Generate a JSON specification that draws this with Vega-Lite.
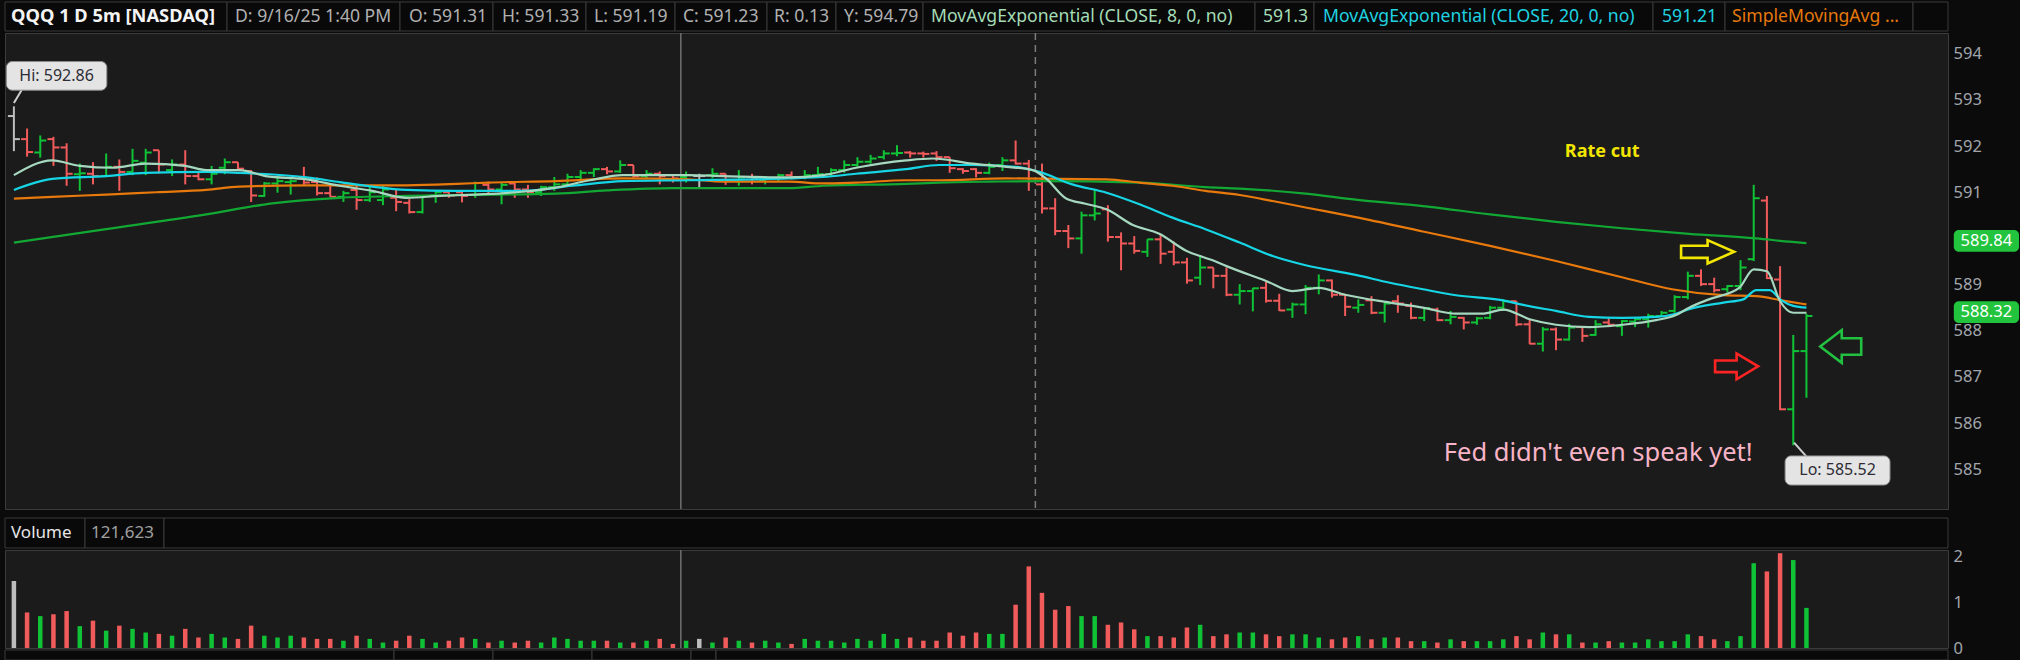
{
"$schema":"https://vega.github.io/schema/vega-lite/v6.json",
"background":"#0b0b0b",
"padding":{"left":4,"top":1,"right":0,"bottom":0},
"config":{"font":"Noto Sans","view":{"fill":"#1b1b1b","stroke":"#3c3c3c","strokeWidth":1},
"axis":{"title":null,"grid":false,"ticks":false,"domain":false,"labelColor":"#a2a6ab","labelFontSize":16.5,"labelFont":"Noto Sans","labelPadding":5},
"legend":{"disable":true}},
"datasets":{
"bars":[
{"i":0,"o":592.65,"h":592.86,"l":591.89,"c":592.15,"v":1.47,"d":"f"},
{"i":1,"o":592.15,"h":592.38,"l":591.77,"c":591.87,"v":0.78,"d":"d"},
{"i":2,"o":591.86,"h":592.23,"l":591.75,"c":592.12,"v":0.70,"d":"u"},
{"i":3,"o":592.15,"h":592.20,"l":591.57,"c":591.97,"v":0.74,"d":"d"},
{"i":4,"o":591.97,"h":592.06,"l":591.14,"c":591.40,"v":0.81,"d":"d"},
{"i":5,"o":591.39,"h":591.62,"l":591.03,"c":591.41,"v":0.48,"d":"u"},
{"i":6,"o":591.40,"h":591.65,"l":591.17,"c":591.35,"v":0.60,"d":"d"},
{"i":7,"o":591.35,"h":591.84,"l":591.33,"c":591.55,"v":0.38,"d":"u"},
{"i":8,"o":591.55,"h":591.71,"l":591.03,"c":591.44,"v":0.49,"d":"d"},
{"i":9,"o":591.44,"h":591.94,"l":591.37,"c":591.68,"v":0.42,"d":"u"},
{"i":10,"o":591.64,"h":591.94,"l":591.37,"c":591.86,"v":0.34,"d":"u"},
{"i":11,"o":591.91,"h":591.91,"l":591.41,"c":591.60,"v":0.31,"d":"d"},
{"i":12,"o":591.48,"h":591.71,"l":591.35,"c":591.60,"v":0.27,"d":"u"},
{"i":13,"o":591.60,"h":591.91,"l":591.17,"c":591.35,"v":0.42,"d":"d"},
{"i":14,"o":591.35,"h":591.42,"l":591.26,"c":591.28,"v":0.23,"d":"d"},
{"i":15,"o":591.28,"h":591.57,"l":591.17,"c":591.40,"v":0.31,"d":"u"},
{"i":16,"o":591.53,"h":591.73,"l":591.39,"c":591.65,"v":0.23,"d":"u"},
{"i":17,"o":591.65,"h":591.65,"l":591.50,"c":591.51,"v":0.20,"d":"d"},
{"i":18,"o":591.46,"h":591.48,"l":590.79,"c":590.93,"v":0.49,"d":"d"},
{"i":19,"o":590.92,"h":591.22,"l":590.90,"c":591.19,"v":0.27,"d":"u"},
{"i":20,"o":591.19,"h":591.35,"l":590.99,"c":591.24,"v":0.23,"d":"u"},
{"i":21,"o":591.22,"h":591.28,"l":590.95,"c":591.24,"v":0.27,"d":"u"},
{"i":22,"o":591.32,"h":591.55,"l":591.15,"c":591.21,"v":0.23,"d":"d"},
{"i":23,"o":591.22,"h":591.32,"l":590.93,"c":590.98,"v":0.20,"d":"d"},
{"i":24,"o":590.98,"h":591.14,"l":590.90,"c":590.90,"v":0.20,"d":"d"},
{"i":25,"o":590.90,"h":591.03,"l":590.79,"c":590.98,"v":0.16,"d":"u"},
{"i":26,"o":591.05,"h":591.15,"l":590.62,"c":590.83,"v":0.27,"d":"d"},
{"i":27,"o":590.83,"h":591.14,"l":590.79,"c":591.00,"v":0.20,"d":"u"},
{"i":28,"o":590.83,"h":591.14,"l":590.72,"c":591.06,"v":0.12,"d":"u"},
{"i":29,"o":590.88,"h":591.05,"l":590.59,"c":590.79,"v":0.16,"d":"d"},
{"i":30,"o":590.77,"h":590.85,"l":590.54,"c":590.57,"v":0.27,"d":"d"},
{"i":31,"o":590.57,"h":590.93,"l":590.54,"c":590.92,"v":0.20,"d":"u"},
{"i":32,"o":590.93,"h":591.03,"l":590.77,"c":591.00,"v":0.12,"d":"u"},
{"i":33,"o":591.00,"h":591.03,"l":590.88,"c":590.93,"v":0.16,"d":"d"},
{"i":34,"o":591.00,"h":591.03,"l":590.78,"c":590.92,"v":0.23,"d":"d"},
{"i":35,"o":590.94,"h":591.23,"l":590.88,"c":591.03,"v":0.20,"d":"u"},
{"i":36,"o":591.16,"h":591.23,"l":590.94,"c":591.06,"v":0.12,"d":"d"},
{"i":37,"o":591.06,"h":591.21,"l":590.74,"c":591.16,"v":0.16,"d":"u"},
{"i":38,"o":591.19,"h":591.21,"l":590.88,"c":591.06,"v":0.12,"d":"d"},
{"i":39,"o":591.06,"h":591.16,"l":590.88,"c":591.00,"v":0.16,"d":"d"},
{"i":40,"o":591.00,"h":591.14,"l":590.92,"c":591.11,"v":0.12,"d":"u"},
{"i":41,"o":591.11,"h":591.33,"l":591.03,"c":591.17,"v":0.23,"d":"u"},
{"i":42,"o":591.17,"h":591.40,"l":591.16,"c":591.33,"v":0.20,"d":"u"},
{"i":43,"o":591.33,"h":591.48,"l":591.21,"c":591.42,"v":0.16,"d":"u"},
{"i":44,"o":591.42,"h":591.52,"l":591.33,"c":591.50,"v":0.16,"d":"u"},
{"i":45,"o":591.50,"h":591.55,"l":591.39,"c":591.45,"v":0.16,"d":"d"},
{"i":46,"o":591.45,"h":591.69,"l":591.42,"c":591.59,"v":0.12,"d":"u"},
{"i":47,"o":591.59,"h":591.59,"l":591.30,"c":591.35,"v":0.12,"d":"d"},
{"i":48,"o":591.35,"h":591.48,"l":591.30,"c":591.40,"v":0.16,"d":"u"},
{"i":49,"o":591.40,"h":591.45,"l":591.17,"c":591.35,"v":0.20,"d":"d"},
{"i":50,"o":591.37,"h":591.39,"l":591.21,"c":591.30,"v":0.09,"d":"d"},
{"i":51,"o":591.33,"h":591.45,"l":591.21,"c":591.37,"v":0.16,"d":"u"},
{"i":52,"o":591.35,"h":591.40,"l":591.10,"c":591.35,"v":0.20,"d":"f"},
{"i":53,"o":591.37,"h":591.52,"l":591.30,"c":591.40,"v":0.12,"d":"u"},
{"i":54,"o":591.40,"h":591.40,"l":591.16,"c":591.26,"v":0.23,"d":"d"},
{"i":55,"o":591.26,"h":591.48,"l":591.14,"c":591.32,"v":0.16,"d":"u"},
{"i":56,"o":591.33,"h":591.40,"l":591.17,"c":591.30,"v":0.12,"d":"d"},
{"i":57,"o":591.26,"h":591.35,"l":591.17,"c":591.30,"v":0.16,"d":"u"},
{"i":58,"o":591.30,"h":591.40,"l":591.23,"c":591.37,"v":0.12,"d":"u"},
{"i":59,"o":591.37,"h":591.45,"l":591.28,"c":591.33,"v":0.09,"d":"d"},
{"i":60,"o":591.33,"h":591.48,"l":591.28,"c":591.37,"v":0.20,"d":"u"},
{"i":61,"o":591.37,"h":591.55,"l":591.33,"c":591.39,"v":0.16,"d":"u"},
{"i":62,"o":591.39,"h":591.52,"l":591.35,"c":591.48,"v":0.16,"d":"u"},
{"i":63,"o":591.48,"h":591.69,"l":591.42,"c":591.59,"v":0.12,"d":"u"},
{"i":64,"o":591.59,"h":591.76,"l":591.55,"c":591.66,"v":0.20,"d":"u"},
{"i":65,"o":591.66,"h":591.81,"l":591.62,"c":591.73,"v":0.16,"d":"u"},
{"i":66,"o":591.76,"h":591.91,"l":591.71,"c":591.84,"v":0.31,"d":"u"},
{"i":67,"o":591.84,"h":592.02,"l":591.78,"c":591.85,"v":0.20,"d":"u"},
{"i":68,"o":591.86,"h":591.89,"l":591.75,"c":591.84,"v":0.23,"d":"d"},
{"i":69,"o":591.84,"h":591.88,"l":591.75,"c":591.83,"v":0.16,"d":"d"},
{"i":70,"o":591.84,"h":591.89,"l":591.68,"c":591.76,"v":0.16,"d":"d"},
{"i":71,"o":591.76,"h":591.76,"l":591.42,"c":591.52,"v":0.34,"d":"d"},
{"i":72,"o":591.50,"h":591.52,"l":591.40,"c":591.46,"v":0.27,"d":"d"},
{"i":73,"o":591.50,"h":591.52,"l":591.32,"c":591.42,"v":0.34,"d":"d"},
{"i":74,"o":591.42,"h":591.64,"l":591.39,"c":591.55,"v":0.31,"d":"u"},
{"i":75,"o":591.59,"h":591.76,"l":591.46,"c":591.69,"v":0.31,"d":"u"},
{"i":76,"o":591.69,"h":592.12,"l":591.60,"c":591.62,"v":0.95,"d":"d"},
{"i":77,"o":591.62,"h":591.70,"l":591.03,"c":591.24,"v":1.79,"d":"d"},
{"i":78,"o":591.17,"h":591.62,"l":590.54,"c":590.65,"v":1.21,"d":"d"},
{"i":79,"o":590.65,"h":590.87,"l":590.07,"c":590.16,"v":0.84,"d":"d"},
{"i":80,"o":590.16,"h":590.29,"l":589.79,"c":590.00,"v":0.92,"d":"d"},
{"i":81,"o":590.00,"h":590.58,"l":589.67,"c":590.50,"v":0.70,"d":"u"},
{"i":82,"o":590.50,"h":591.06,"l":590.39,"c":590.54,"v":0.70,"d":"u"},
{"i":83,"o":590.63,"h":590.72,"l":589.93,"c":590.03,"v":0.51,"d":"d"},
{"i":84,"o":590.03,"h":590.13,"l":589.31,"c":589.89,"v":0.56,"d":"d"},
{"i":85,"o":589.89,"h":590.05,"l":589.67,"c":589.73,"v":0.41,"d":"d"},
{"i":86,"o":589.71,"h":589.98,"l":589.60,"c":589.98,"v":0.26,"d":"u"},
{"i":87,"o":589.98,"h":590.10,"l":589.45,"c":589.67,"v":0.26,"d":"d"},
{"i":88,"o":589.71,"h":589.93,"l":589.42,"c":589.48,"v":0.23,"d":"d"},
{"i":89,"o":589.48,"h":589.58,"l":589.02,"c":589.09,"v":0.45,"d":"d"},
{"i":90,"o":589.15,"h":589.64,"l":588.99,"c":589.37,"v":0.51,"d":"u"},
{"i":91,"o":589.37,"h":589.37,"l":588.92,"c":589.19,"v":0.26,"d":"d"},
{"i":92,"o":589.19,"h":589.37,"l":588.75,"c":588.78,"v":0.30,"d":"d"},
{"i":93,"o":588.78,"h":589.01,"l":588.57,"c":588.86,"v":0.34,"d":"u"},
{"i":94,"o":588.86,"h":588.93,"l":588.42,"c":588.92,"v":0.34,"d":"u"},
{"i":95,"o":588.93,"h":589.06,"l":588.61,"c":588.65,"v":0.30,"d":"d"},
{"i":96,"o":588.65,"h":588.80,"l":588.43,"c":588.44,"v":0.26,"d":"d"},
{"i":97,"o":588.46,"h":588.61,"l":588.28,"c":588.57,"v":0.30,"d":"u"},
{"i":98,"o":588.57,"h":588.99,"l":588.36,"c":588.93,"v":0.30,"d":"u"},
{"i":99,"o":588.93,"h":589.22,"l":588.79,"c":589.09,"v":0.23,"d":"u"},
{"i":100,"o":589.09,"h":589.11,"l":588.72,"c":588.78,"v":0.19,"d":"d"},
{"i":101,"o":588.78,"h":588.78,"l":588.32,"c":588.52,"v":0.23,"d":"d"},
{"i":102,"o":588.50,"h":588.68,"l":588.39,"c":588.56,"v":0.26,"d":"u"},
{"i":103,"o":588.66,"h":588.75,"l":588.36,"c":588.39,"v":0.19,"d":"d"},
{"i":104,"o":588.39,"h":588.61,"l":588.18,"c":588.59,"v":0.23,"d":"u"},
{"i":105,"o":588.64,"h":588.77,"l":588.39,"c":588.59,"v":0.23,"d":"d"},
{"i":106,"o":588.54,"h":588.61,"l":588.25,"c":588.28,"v":0.15,"d":"d"},
{"i":107,"o":588.28,"h":588.51,"l":588.21,"c":588.49,"v":0.15,"d":"u"},
{"i":108,"o":588.46,"h":588.50,"l":588.21,"c":588.23,"v":0.12,"d":"d"},
{"i":109,"o":588.23,"h":588.43,"l":588.14,"c":588.30,"v":0.19,"d":"u"},
{"i":110,"o":588.28,"h":588.30,"l":588.03,"c":588.18,"v":0.15,"d":"d"},
{"i":111,"o":588.18,"h":588.30,"l":588.13,"c":588.27,"v":0.15,"d":"u"},
{"i":112,"o":588.28,"h":588.54,"l":588.25,"c":588.50,"v":0.15,"d":"u"},
{"i":113,"o":588.50,"h":588.68,"l":588.43,"c":588.64,"v":0.19,"d":"u"},
{"i":114,"o":588.64,"h":588.64,"l":588.10,"c":588.14,"v":0.26,"d":"d"},
{"i":115,"o":588.14,"h":588.25,"l":587.71,"c":587.72,"v":0.19,"d":"d"},
{"i":116,"o":587.72,"h":588.08,"l":587.55,"c":588.03,"v":0.34,"d":"u"},
{"i":117,"o":588.03,"h":588.07,"l":587.58,"c":587.81,"v":0.30,"d":"d"},
{"i":118,"o":587.81,"h":588.15,"l":587.79,"c":588.07,"v":0.30,"d":"u"},
{"i":119,"o":588.08,"h":588.10,"l":587.76,"c":587.89,"v":0.12,"d":"d"},
{"i":120,"o":587.91,"h":588.23,"l":587.89,"c":588.14,"v":0.12,"d":"u"},
{"i":121,"o":588.18,"h":588.27,"l":588.08,"c":588.13,"v":0.15,"d":"d"},
{"i":122,"o":588.10,"h":588.23,"l":587.89,"c":588.21,"v":0.12,"d":"u"},
{"i":123,"o":588.20,"h":588.27,"l":588.08,"c":588.25,"v":0.12,"d":"u"},
{"i":124,"o":588.25,"h":588.37,"l":588.07,"c":588.32,"v":0.19,"d":"u"},
{"i":125,"o":588.32,"h":588.43,"l":588.30,"c":588.39,"v":0.15,"d":"u"},
{"i":126,"o":588.43,"h":588.77,"l":588.39,"c":588.73,"v":0.15,"d":"u"},
{"i":127,"o":588.73,"h":589.28,"l":588.68,"c":589.19,"v":0.30,"d":"u"},
{"i":128,"o":589.19,"h":589.33,"l":588.97,"c":589.01,"v":0.26,"d":"d"},
{"i":129,"o":589.01,"h":589.15,"l":588.83,"c":588.88,"v":0.19,"d":"d"},
{"i":130,"o":588.90,"h":588.99,"l":588.83,"c":588.97,"v":0.15,"d":"u"},
{"i":131,"o":588.97,"h":589.53,"l":588.88,"c":589.37,"v":0.26,"d":"u"},
{"i":132,"o":589.55,"h":591.16,"l":589.51,"c":590.87,"v":1.86,"d":"u"},
{"i":133,"o":590.82,"h":590.92,"l":589.12,"c":589.14,"v":1.68,"d":"d"},
{"i":134,"o":589.11,"h":589.40,"l":586.28,"c":586.30,"v":2.08,"d":"d"},
{"i":135,"o":586.30,"h":587.91,"l":585.52,"c":587.56,"v":1.93,"d":"u"},
{"i":136,"o":587.56,"h":588.37,"l":586.55,"c":588.32,"v":0.88,"d":"u"}
],
"ma":[
{"s":"e8","i":0,"p":591.37},{"s":"e8","i":2.9,"p":591.69},{"s":"e8","i":5,"p":591.57},{"s":"e8","i":7.5,"p":591.53},{"s":"e8","i":10,"p":591.62},{"s":"e8","i":13,"p":591.57},{"s":"e8","i":14.6,"p":591.48},{"s":"e8","i":17.1,"p":591.48},{"s":"e8","i":19.1,"p":591.35},{"s":"e8","i":22.2,"p":591.28},{"s":"e8","i":24.7,"p":591.14},{"s":"e8","i":27.2,"p":591.03},{"s":"e8","i":29.8,"p":590.88},{"s":"e8","i":32.3,"p":590.92},{"s":"e8","i":35,"p":590.95},{"s":"e8","i":38.6,"p":591.01},{"s":"e8","i":41.1,"p":591.10},{"s":"e8","i":43.7,"p":591.26},{"s":"e8","i":46.2,"p":591.37},{"s":"e8","i":51.2,"p":591.37},{"s":"e8","i":53.8,"p":591.35},{"s":"e8","i":58.8,"p":591.32},{"s":"e8","i":61.4,"p":591.37},{"s":"e8","i":63.9,"p":591.53},{"s":"e8","i":67.7,"p":591.69},{"s":"e8","i":69.7,"p":591.73},{"s":"e8","i":72.7,"p":591.62},{"s":"e8","i":75.3,"p":591.55},{"s":"e8","i":77.3,"p":591.48},{"s":"e8","i":78.3,"p":591.30},{"s":"e8","i":79.8,"p":590.87},{"s":"e8","i":81.3,"p":590.75},{"s":"e8","i":82.9,"p":590.63},{"s":"e8","i":84.9,"p":590.29},{"s":"e8","i":86.9,"p":590.10},{"s":"e8","i":88.9,"p":589.74},{"s":"e8","i":91,"p":589.52},{"s":"e8","i":92,"p":589.40},{"s":"e8","i":95,"p":589.08},{"s":"e8","i":97,"p":588.86},{"s":"e8","i":99,"p":588.93},{"s":"e8","i":101,"p":588.78},{"s":"e8","i":104.4,"p":588.61},{"s":"e8","i":106.9,"p":588.50},{"s":"e8","i":109.4,"p":588.37},{"s":"e8","i":111.4,"p":588.37},{"s":"e8","i":113,"p":588.46},{"s":"e8","i":115,"p":588.25},{"s":"e8","i":117,"p":588.13},{"s":"e8","i":119.5,"p":588.08},{"s":"e8","i":122,"p":588.13},{"s":"e8","i":124.6,"p":588.23},{"s":"e8","i":126.1,"p":588.34},{"s":"e8","i":127.1,"p":588.50},{"s":"e8","i":128.6,"p":588.68},{"s":"e8","i":130.9,"p":588.93},{"s":"e8","i":132,"p":589.33},{"s":"e8","i":133,"p":589.29},{"s":"e8","i":134,"p":588.64},{"s":"e8","i":135,"p":588.39},{"s":"e8","i":136,"p":588.39},
{"s":"e20","i":0,"p":591.05},{"s":"e20","i":2.9,"p":591.29},{"s":"e20","i":7,"p":591.35},{"s":"e20","i":10,"p":591.42},{"s":"e20","i":14.6,"p":591.44},{"s":"e20","i":17.1,"p":591.42},{"s":"e20","i":22.2,"p":591.32},{"s":"e20","i":24.7,"p":591.22},{"s":"e20","i":27.2,"p":591.12},{"s":"e20","i":29.8,"p":591.05},{"s":"e20","i":33.6,"p":591.03},{"s":"e20","i":38.6,"p":591.03},{"s":"e20","i":42.4,"p":591.14},{"s":"e20","i":46.2,"p":591.24},{"s":"e20","i":51.2,"p":591.26},{"s":"e20","i":58.8,"p":591.30},{"s":"e20","i":61.4,"p":591.33},{"s":"e20","i":63.9,"p":591.40},{"s":"e20","i":67.7,"p":591.50},{"s":"e20","i":70.2,"p":591.59},{"s":"e20","i":72.7,"p":591.59},{"s":"e20","i":76,"p":591.55},{"s":"e20","i":77.8,"p":591.44},{"s":"e20","i":80.3,"p":591.17},{"s":"e20","i":82.9,"p":590.99},{"s":"e20","i":85.4,"p":590.74},{"s":"e20","i":87.9,"p":590.45},{"s":"e20","i":90.4,"p":590.20},{"s":"e20","i":93,"p":589.91},{"s":"e20","i":95.5,"p":589.62},{"s":"e20","i":98,"p":589.42},{"s":"e20","i":101.8,"p":589.21},{"s":"e20","i":104.4,"p":589.04},{"s":"e20","i":106.9,"p":588.90},{"s":"e20","i":109.4,"p":588.77},{"s":"e20","i":113,"p":588.66},{"s":"e20","i":114.5,"p":588.56},{"s":"e20","i":117,"p":588.43},{"s":"e20","i":119.5,"p":588.30},{"s":"e20","i":122,"p":588.28},{"s":"e20","i":124.6,"p":588.30},{"s":"e20","i":126.1,"p":588.37},{"s":"e20","i":127.1,"p":588.47},{"s":"e20","i":129.7,"p":588.61},{"s":"e20","i":131.2,"p":588.68},{"s":"e20","i":132.2,"p":588.88},{"s":"e20","i":133.2,"p":588.88},{"s":"e20","i":134.1,"p":588.66},{"s":"e20","i":135,"p":588.54},{"s":"e20","i":136,"p":588.50},
{"s":"s1","i":0,"p":590.86},{"s":"s1","i":2.9,"p":590.90},{"s":"s1","i":7,"p":590.95},{"s":"s1","i":10.8,"p":591.00},{"s":"s1","i":14.6,"p":591.05},{"s":"s1","i":17.1,"p":591.12},{"s":"s1","i":22.2,"p":591.15},{"s":"s1","i":29.8,"p":591.15},{"s":"s1","i":33.6,"p":591.18},{"s":"s1","i":36,"p":591.21},{"s":"s1","i":41.1,"p":591.24},{"s":"s1","i":46.2,"p":591.30},{"s":"s1","i":51.2,"p":591.28},{"s":"s1","i":53.8,"p":591.23},{"s":"s1","i":58.8,"p":591.23},{"s":"s1","i":61.4,"p":591.19},{"s":"s1","i":63.9,"p":591.21},{"s":"s1","i":67.7,"p":591.26},{"s":"s1","i":70.2,"p":591.26},{"s":"s1","i":75.3,"p":591.30},{"s":"s1","i":82.9,"p":591.28},{"s":"s1","i":85.4,"p":591.21},{"s":"s1","i":87.9,"p":591.14},{"s":"s1","i":90.4,"p":591.03},{"s":"s1","i":93,"p":590.94},{"s":"s1","i":95.5,"p":590.81},{"s":"s1","i":98,"p":590.67},{"s":"s1","i":101.8,"p":590.46},{"s":"s1","i":106.9,"p":590.15},{"s":"s1","i":112,"p":589.84},{"s":"s1","i":117,"p":589.51},{"s":"s1","i":122,"p":589.16},{"s":"s1","i":125.8,"p":588.90},{"s":"s1","i":129.7,"p":588.77},{"s":"s1","i":132.2,"p":588.75},{"s":"s1","i":134.1,"p":588.66},{"s":"s1","i":136,"p":588.57},
{"s":"s2","i":0,"p":589.91},{"s":"s2","i":7,"p":590.20},{"s":"s2","i":14.6,"p":590.52},{"s":"s2","i":19.6,"p":590.76},{"s":"s2","i":24.7,"p":590.88},{"s":"s2","i":29.8,"p":590.92},{"s":"s2","i":33.6,"p":590.94},{"s":"s2","i":41.1,"p":590.97},{"s":"s2","i":45,"p":591.04},{"s":"s2","i":50,"p":591.09},{"s":"s2","i":58.8,"p":591.09},{"s":"s2","i":61.4,"p":591.14},{"s":"s2","i":67.7,"p":591.18},{"s":"s2","i":70.2,"p":591.21},{"s":"s2","i":74,"p":591.23},{"s":"s2","i":77.8,"p":591.24},{"s":"s2","i":85.4,"p":591.21},{"s":"s2","i":90.4,"p":591.11},{"s":"s2","i":93,"p":591.08},{"s":"s2","i":98,"p":590.97},{"s":"s2","i":101.8,"p":590.84},{"s":"s2","i":106.9,"p":590.70},{"s":"s2","i":112,"p":590.52},{"s":"s2","i":117,"p":590.36},{"s":"s2","i":122,"p":590.22},{"s":"s2","i":127.1,"p":590.10},{"s":"s2","i":132.2,"p":590.00},{"s":"s2","i":134.7,"p":589.93},{"s":"s2","i":136,"p":589.90}
],
"hcells":[{"a":0,"b":222},{"a":222,"b":395},{"a":395,"b":488},{"a":488,"b":581},{"a":581,"b":670},{"a":670,"b":762},{"a":762,"b":831},{"a":831,"b":918},{"a":918,"b":1250},{"a":1250,"b":1309},{"a":1309,"b":1648},{"a":1648,"b":1720},{"a":1720,"b":1908},{"a":1908,"b":1943}],
"htext":[{"a":230,"t":"D: 9/16/25 1:40 PM","r":"n"},{"a":404,"t":"O: 591.31","r":"n"},{"a":497,"t":"H: 591.33","r":"n"},{"a":589,"t":"L: 591.19","r":"n"},{"a":678,"t":"C: 591.23","r":"n"},{"a":769,"t":"R: 0.13","r":"n"},{"a":839,"t":"Y: 594.79","r":"n"},{"a":926,"t":"MovAvgExponential (CLOSE, 8, 0, no)","r":"e8"},{"a":1258,"t":"591.3","r":"e8"},{"a":1318,"t":"MovAvgExponential (CLOSE, 20, 0, no)","r":"e20"},{"a":1657,"t":"591.21","r":"e20"},{"a":1727,"t":"SimpleMovingAvg ...","r":"sma"}],
"callouts":[{"x1":-0.57,"x2":7.05,"y1":593.83,"y2":593.21,"tx":3.24,"ty":593.52,"t":"Hi: 592.86","ax":0.6,"ay":593.22,"bx":0.0,"by":592.93},{"x1":134.38,"x2":142.34,"y1":585.29,"y2":584.66,"tx":138.36,"ty":584.975,"t":"Lo: 585.52","ax":135.99,"ay":585.28,"bx":135.06,"by":585.58}],
"tags":[{"x1":147.18,"x2":152.13,"y1":590.18,"y2":589.71,"tx":149.65,"ty":589.945,"t":"589.84"},{"x1":147.18,"x2":152.13,"y1":588.64,"y2":588.17,"tx":149.65,"ty":588.405,"t":"588.32"}]
},
"spacing":2,
"bounds":"flush",
"resolve":{"scale":{"x":"independent","y":"independent","color":"independent"}},
"vconcat":[
{"width":1943,"height":29,"view":{"fill":"#0b0b0b","stroke":null},
"layer":[
{"data":{"name":"hcells"},"mark":{"type":"rect","fill":"#090909","stroke":"#3a3a3a","strokeWidth":1},
"encoding":{"x":{"field":"a","type":"quantitative","scale":{"domain":[0,1943],"nice":false,"zero":false},"axis":null},"x2":{"field":"b"}}},
{"data":{"values":[{"a":6,"t":"QQQ 1 D 5m [NASDAQ]"}]},"mark":{"type":"text","align":"left","baseline":"middle","fontSize":18.3,"fontWeight":"bold","color":"#f4f4f4"},
"encoding":{"x":{"field":"a","type":"quantitative","axis":null},"text":{"field":"t"}}},
{"data":{"name":"htext"},"mark":{"type":"text","align":"left","baseline":"middle","fontSize":17.6},
"encoding":{"x":{"field":"a","type":"quantitative","axis":null},"text":{"field":"t"},
"color":{"field":"r","type":"nominal","scale":{"domain":["n","e8","e20","sma"],"range":["#b0b0b0","#a4dcb6","#1fd2e0","#e5780c"]},"legend":null}}}
]},
{"width":1943,"height":476,
"layer":[
{"data":{"values":[{"i":50.6}]},"mark":{"type":"rule","color":"#6f6f6f","strokeWidth":1.5},
"encoding":{"x":{"field":"i","type":"quantitative","scale":{"domain":[-0.675,146.74],"nice":false,"zero":false},"axis":null}}},
{"data":{"values":[{"i":77.5}]},"mark":{"type":"rule","color":"#7c7c7c","strokeWidth":1.5,"strokeDash":[7,5]},
"encoding":{"x":{"field":"i","type":"quantitative","axis":null}}},
{"data":{"name":"bars"},"mark":{"type":"rule","strokeWidth":2},
"encoding":{"x":{"field":"i","type":"quantitative","axis":null},
"y":{"field":"l","type":"quantitative","scale":{"domain":[584.141,594.448],"nice":false,"zero":false},"axis":{"orient":"right","values":[585,586,587,588,589,591,592,593,594]}},
"y2":{"field":"h"},
"color":{"field":"d","type":"nominal","scale":{"domain":["u","d","f"],"range":["#10c236","#f25b5b","#bdbdbd"]},"legend":null}}},
{"data":{"name":"bars"},"mark":{"type":"rule","strokeWidth":2,"xOffset":-6,"x2Offset":0},
"encoding":{"x":{"field":"i","type":"quantitative","axis":null},"x2":{"field":"i"},"y":{"field":"o","type":"quantitative","axis":{"orient":"right","values":[585,586,587,588,589,591,592,593,594]}},
"color":{"field":"d","type":"nominal","legend":null}}},
{"data":{"name":"bars"},"mark":{"type":"rule","strokeWidth":2,"xOffset":0,"x2Offset":6},
"encoding":{"x":{"field":"i","type":"quantitative","axis":null},"x2":{"field":"i"},"y":{"field":"c","type":"quantitative","axis":{"orient":"right","values":[585,586,587,588,589,591,592,593,594]}},
"color":{"field":"d","type":"nominal","legend":null}}},
{"data":{"name":"ma"},"transform":[{"filter":"datum.s === 's2'"}],"mark":{"type":"line","color":"#12a834","strokeWidth":2.2,"interpolate":"monotone"},
"encoding":{"x":{"field":"i","type":"quantitative","axis":null},"y":{"field":"p","type":"quantitative","axis":{"orient":"right","values":[585,586,587,588,589,591,592,593,594]}}}},
{"data":{"name":"ma"},"transform":[{"filter":"datum.s === 's1'"}],"mark":{"type":"line","color":"#e8790c","strokeWidth":2.2,"interpolate":"monotone"},
"encoding":{"x":{"field":"i","type":"quantitative","axis":null},"y":{"field":"p","type":"quantitative","axis":{"orient":"right","values":[585,586,587,588,589,591,592,593,594]}}}},
{"data":{"name":"ma"},"transform":[{"filter":"datum.s === 'e20'"}],"mark":{"type":"line","color":"#16d6e6","strokeWidth":2.2,"interpolate":"monotone"},
"encoding":{"x":{"field":"i","type":"quantitative","axis":null},"y":{"field":"p","type":"quantitative","axis":{"orient":"right","values":[585,586,587,588,589,591,592,593,594]}}}},
{"data":{"name":"ma"},"transform":[{"filter":"datum.s === 'e8'"}],"mark":{"type":"line","color":"#a6d8c0","strokeWidth":2.2,"interpolate":"monotone"},
"encoding":{"x":{"field":"i","type":"quantitative","axis":null},"y":{"field":"p","type":"quantitative","axis":{"orient":"right","values":[585,586,587,588,589,591,592,593,594]}}}},
{"data":{"name":"callouts"},"mark":{"type":"rule","color":"#cfcfcf","strokeWidth":2},
"encoding":{"x":{"field":"ax","type":"quantitative","axis":null},"x2":{"field":"bx"},"y":{"field":"ay","type":"quantitative","axis":{"orient":"right","values":[585,586,587,588,589,591,592,593,594]}},"y2":{"field":"by"}}},
{"data":{"name":"callouts"},"mark":{"type":"rect","fill":"#e4e4e4","stroke":"#8e8e8e","strokeWidth":1,"cornerRadius":6},
"encoding":{"x":{"field":"x1","type":"quantitative","axis":null},"x2":{"field":"x2"},"y":{"field":"y1","type":"quantitative","axis":{"orient":"right","values":[585,586,587,588,589,591,592,593,594]}},"y2":{"field":"y2"}}},
{"data":{"name":"callouts"},"mark":{"type":"text","fontSize":16,"color":"#2c2c34","align":"center","baseline":"middle"},
"encoding":{"x":{"field":"tx","type":"quantitative","axis":null},"y":{"field":"ty","type":"quantitative","axis":{"orient":"right","values":[585,586,587,588,589,591,592,593,594]}},"text":{"field":"t"}}},
{"data":{"values":[{"i":120.5,"p":591.87,"t":"Rate cut"}]},"mark":{"type":"text","fontSize":18,"fontWeight":"bold","color":"#f2e600","align":"center","baseline":"middle"},
"encoding":{"x":{"field":"i","type":"quantitative","axis":null},"y":{"field":"p","type":"quantitative","axis":{"orient":"right","values":[585,586,587,588,589,591,592,593,594]}},"text":{"field":"t"}}},
{"data":{"values":[{"i":120.2,"p":585.35,"t":"Fed didn't even speak yet!"}]},"mark":{"type":"text","fontSize":25.5,"color":"#f8b4c6","align":"center","baseline":"middle"},
"encoding":{"x":{"field":"i","type":"quantitative","axis":null},"y":{"field":"p","type":"quantitative","axis":{"orient":"right","values":[585,586,587,588,589,591,592,593,594]}},"text":{"field":"t"}}},
{"data":{"values":[{"i":128.5,"p":589.71}]},"mark":{"type":"point","shape":"M -1 -0.23 L 0 -0.23 L 0 -0.44 L 1 0 L 0 0.44 L 0 0.23 L -1 0.23 Z","size":2809,"filled":false,"stroke":"#f2e600","strokeWidth":2.6,"opacity":1},
"encoding":{"x":{"field":"i","type":"quantitative","axis":null},"y":{"field":"p","type":"quantitative","axis":{"orient":"right","values":[585,586,587,588,589,591,592,593,594]}}}},
{"data":{"values":[{"i":130.7,"p":587.23}]},"mark":{"type":"point","shape":"M -1 -0.27 L 0 -0.27 L 0 -0.6 L 1 0 L 0 0.6 L 0 0.27 L -1 0.27 Z","size":1849,"filled":false,"stroke":"#ff2424","strokeWidth":2.6,"opacity":1},
"encoding":{"x":{"field":"i","type":"quantitative","axis":null},"y":{"field":"p","type":"quantitative","axis":{"orient":"right","values":[585,586,587,588,589,591,592,593,594]}}}},
{"data":{"values":[{"i":138.6,"p":587.66}]},"mark":{"type":"point","shape":"M 1 -0.4 L 0.05 -0.4 L 0.05 -0.8 L -1 0 L 0.05 0.8 L 0.05 0.4 L 1 0.4 Z","size":1681,"filled":false,"stroke":"#22c040","strokeWidth":2.6,"opacity":1},
"encoding":{"x":{"field":"i","type":"quantitative","axis":null},"y":{"field":"p","type":"quantitative","axis":{"orient":"right","values":[585,586,587,588,589,591,592,593,594]}}}},
{"data":{"name":"tags"},"mark":{"type":"rect","fill":"#22c43e","cornerRadius":5},
"encoding":{"x":{"field":"x1","type":"quantitative","axis":null},"x2":{"field":"x2"},"y":{"field":"y1","type":"quantitative","axis":{"orient":"right","values":[585,586,587,588,589,591,592,593,594]}},"y2":{"field":"y2"}}},
{"data":{"name":"tags"},"mark":{"type":"text","fontSize":16.5,"color":"#ffffff","align":"center","baseline":"middle"},
"encoding":{"x":{"field":"tx","type":"quantitative","axis":null},"y":{"field":"ty","type":"quantitative","axis":{"orient":"right","values":[585,586,587,588,589,591,592,593,594]}},"text":{"field":"t"}}}
]},
{"width":1943,"height":37,"view":{"fill":"#0b0b0b","stroke":null},
"layer":[
{"data":{"values":[{"a":0,"b":80,"y1":0,"y2":30},{"a":80,"b":159,"y1":0,"y2":30},{"a":159,"b":1943,"y1":0,"y2":30}]},"mark":{"type":"rect","fill":"#090909","stroke":"#3a3a3a","strokeWidth":1},
"encoding":{"x":{"field":"a","type":"quantitative","scale":{"domain":[0,1943],"nice":false,"zero":false},"axis":null},"x2":{"field":"b"},
"y":{"field":"y1","type":"quantitative","scale":{"domain":[0,37],"nice":false,"zero":false},"axis":null},"y2":{"field":"y2"}}},
{"data":{"values":[{"a":6,"y":15,"t":"Volume"}]},"mark":{"type":"text","align":"left","baseline":"middle","fontSize":17,"color":"#e6e6e6"},
"encoding":{"x":{"field":"a","type":"quantitative","axis":null},"y":{"field":"y","type":"quantitative","axis":null},"text":{"field":"t"}}},
{"data":{"values":[{"a":86,"y":15,"t":"121,623"}]},"mark":{"type":"text","align":"left","baseline":"middle","fontSize":17,"color":"#a0a0a0"},
"encoding":{"x":{"field":"a","type":"quantitative","axis":null},"y":{"field":"y","type":"quantitative","axis":null},"text":{"field":"t"}}}
]},
{"width":1943,"height":98,
"layer":[
{"data":{"values":[{"i":50.6}]},"mark":{"type":"rule","color":"#6f6f6f","strokeWidth":1.5},
"encoding":{"x":{"field":"i","type":"quantitative","scale":{"domain":[-0.675,146.74],"nice":false,"zero":false},"axis":null}}},
{"data":{"name":"bars"},"mark":{"type":"rule","strokeWidth":4.5},
"encoding":{"x":{"field":"i","type":"quantitative","axis":null},
"y":{"field":"v","type":"quantitative","scale":{"domain":[0,2.15],"nice":false,"zero":true},"axis":{"orient":"right","values":[0,1,2]}},
"y2":{"datum":0},
"color":{"field":"d","type":"nominal","scale":{"domain":["u","d","f"],"range":["#10c236","#f25b5b","#bdbdbd"]},"legend":null}}}
]},
{"width":1943,"height":10,"view":{"fill":"#0b0b0b","stroke":null},
"layer":[
{"data":{"values":[{"a":0,"b":389},{"a":389,"b":488},{"a":488,"b":587},{"a":587,"b":686},{"a":686,"b":711},{"a":711,"b":1943}]},"mark":{"type":"rect","fill":"#090909","stroke":"#3a3a3a","strokeWidth":1},
"encoding":{"x":{"field":"a","type":"quantitative","scale":{"domain":[0,1943],"nice":false,"zero":false},"axis":null},"x2":{"field":"b"}}}
]}
]
}
